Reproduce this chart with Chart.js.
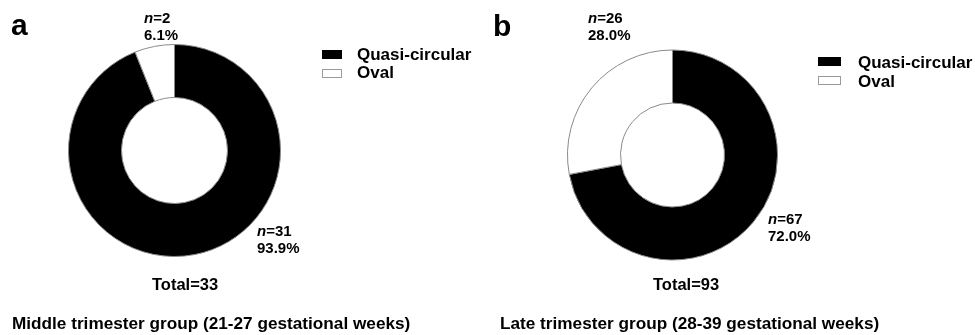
<!DOCTYPE html>
<html>
<head>
<meta charset="utf-8">
<script src="https://cdn.jsdelivr.net/npm/chart.js@4.4.1/dist/chart.umd.min.js"></script>
<style>
  html, body { margin: 0; padding: 0; background: #fff; }
  body { width: 975px; height: 335px; position: relative; overflow: hidden;
         font-family: "Liberation Sans", Arial, sans-serif; font-weight: bold; color: #000; }
  canvas { position: absolute; left: 0; top: 0; pointer-events: none; }
  .t { position: absolute; white-space: nowrap; line-height: 1; }
  .box { position: absolute; box-sizing: border-box; }
</style>
</head>
<body>
<canvas id="chartA" width="975" height="335"></canvas>
<canvas id="chartB" width="975" height="335"></canvas>

<script>
// Shape categories and counts per gestational group
const categories = ["Quasi-circular", "Oval"];
const countsMiddle = [31, 2];   // 21-27 gestational weeks
const countsLate = [67, 26];    // 28-39 gestational weeks
const panelLetters = ["a", "b"];
const groupTitles = [
  "Middle trimester group (21-27 gestational weeks)",
  "Late trimester group (28-39 gestational weeks)"
];

const sliceFill = ["#000000", "#ffffff"];
const sliceEdge = "#8a8a8a";
const FONT = '"Liberation Sans", Arial, sans-serif';

const total = arr => arr.reduce((s, v) => s + v, 0);
const pct = (v, arr) => (v / total(arr) * 100).toFixed(1) + "%";

// Draws "n=.." and percentage next to each slice, offset from the ring centre
const sliceLabels = {
  id: "sliceLabels",
  afterDatasetsDraw(chart, args, opts) {
    const ctx = chart.ctx;
    const meta = chart.getDatasetMeta(0);
    const values = chart.data.datasets[0].data;
    const size = opts.size;
    ctx.save();
    ctx.fillStyle = "#000";
    ctx.textBaseline = "alphabetic";
    ctx.textAlign = "left";
    meta.data.forEach((arc, i) => {
      const off = opts.offsets[i];
      const x = arc.x + off[0];
      const y1 = arc.y + off[1] + size * 0.36;
      const y2 = y1 + opts.gap;
      ctx.font = "italic bold " + size + "px " + FONT;
      ctx.fillText("n", x, y1);
      const w = ctx.measureText("n").width;
      ctx.font = "bold " + size + "px " + FONT;
      ctx.fillText("=" + values[i], x + w, y1);
      ctx.fillText(pct(values[i], values), x, y2);
    });
    ctx.restore();
  }
};

function makeDonut(id, counts, center, outerR, innerR, offsets) {
  const area = 230;
  const padding = {
    left: center[0] - area / 2,
    top: center[1] - area / 2,
    right: 975 - (center[0] + area / 2),
    bottom: 335 - (center[1] + area / 2)
  };
  return new Chart(document.getElementById(id), {
    type: "doughnut",
    data: {
      labels: categories,
      datasets: [{
        data: counts,
        backgroundColor: sliceFill,
        borderColor: sliceEdge,
        borderWidth: 1,
        borderAlign: "center"
      }]
    },
    options: {
      responsive: false,
      animation: false,
      radius: outerR,
      cutout: (innerR / outerR * 100) + "%",
      layout: { padding },
      plugins: {
        legend: { display: false },
        tooltip: { enabled: false },
        sliceLabels: { size: 15, gap: 17, offsets }
      }
    },
    plugins: [sliceLabels]
  });
}

makeDonut("chartA", countsMiddle, [174.5, 150.5], 106, 53,
  [[82.5, 80.5], [-30.5, -132.5]]);
makeDonut("chartB", countsLate, [672.5, 155], 105, 52,
  [[95.5, 64], [-84.5, -137]]);

// Panel letters, legends, totals and group titles
function addText(txt, left, top, size, extra) {
  const d = document.createElement("div");
  d.className = "t";
  d.textContent = txt;
  d.style.left = left + "px";
  d.style.top = top + "px";
  d.style.fontSize = size + "px";
  if (extra) Object.assign(d.style, extra);
  document.body.appendChild(d);
  return d;
}
function addBox(left, top, w, h, fill) {
  const b = document.createElement("div");
  b.className = "box";
  Object.assign(b.style, {
    left: left + "px", top: top + "px", width: w + "px", height: h + "px",
    background: fill, border: "1px solid " + (fill === "#ffffff" ? "#9a9a9a" : "#000")
  });
  document.body.appendChild(b);
}
function centeredText(txt, cx, cy, size) {
  const d = addText(txt, 0, cy - size / 2, size);
  d.style.left = (cx - d.offsetWidth / 2) + "px";
}

addText(panelLetters[0], 11, 9.5, 30);
addText(panelLetters[1], 493, 10.5, 30);

const legends = [
  { box: [322, 50, 20, 9], text: 357, rows: [54, 72.5] },
  { box: [818, 57, 23, 9], text: 858, rows: [62, 81] }
];
legends.forEach(lg => {
  categories.forEach((c, i) => {
    const dy = lg.rows[i] - lg.rows[0];
    addBox(lg.box[0], lg.box[1] + dy, lg.box[2], lg.box[3], sliceFill[i]);
    addText(c, lg.text, lg.rows[i] - 8.5, 17);
  });
});

centeredText("Total=" + total(countsMiddle), 185, 284, 16.5);
centeredText("Total=" + total(countsLate), 686, 284, 16.5);
addText(groupTitles[0], 12, 314.5, 17.2);
addText(groupTitles[1], 500, 314.5, 17.2);
</script>
</body>
</html>
